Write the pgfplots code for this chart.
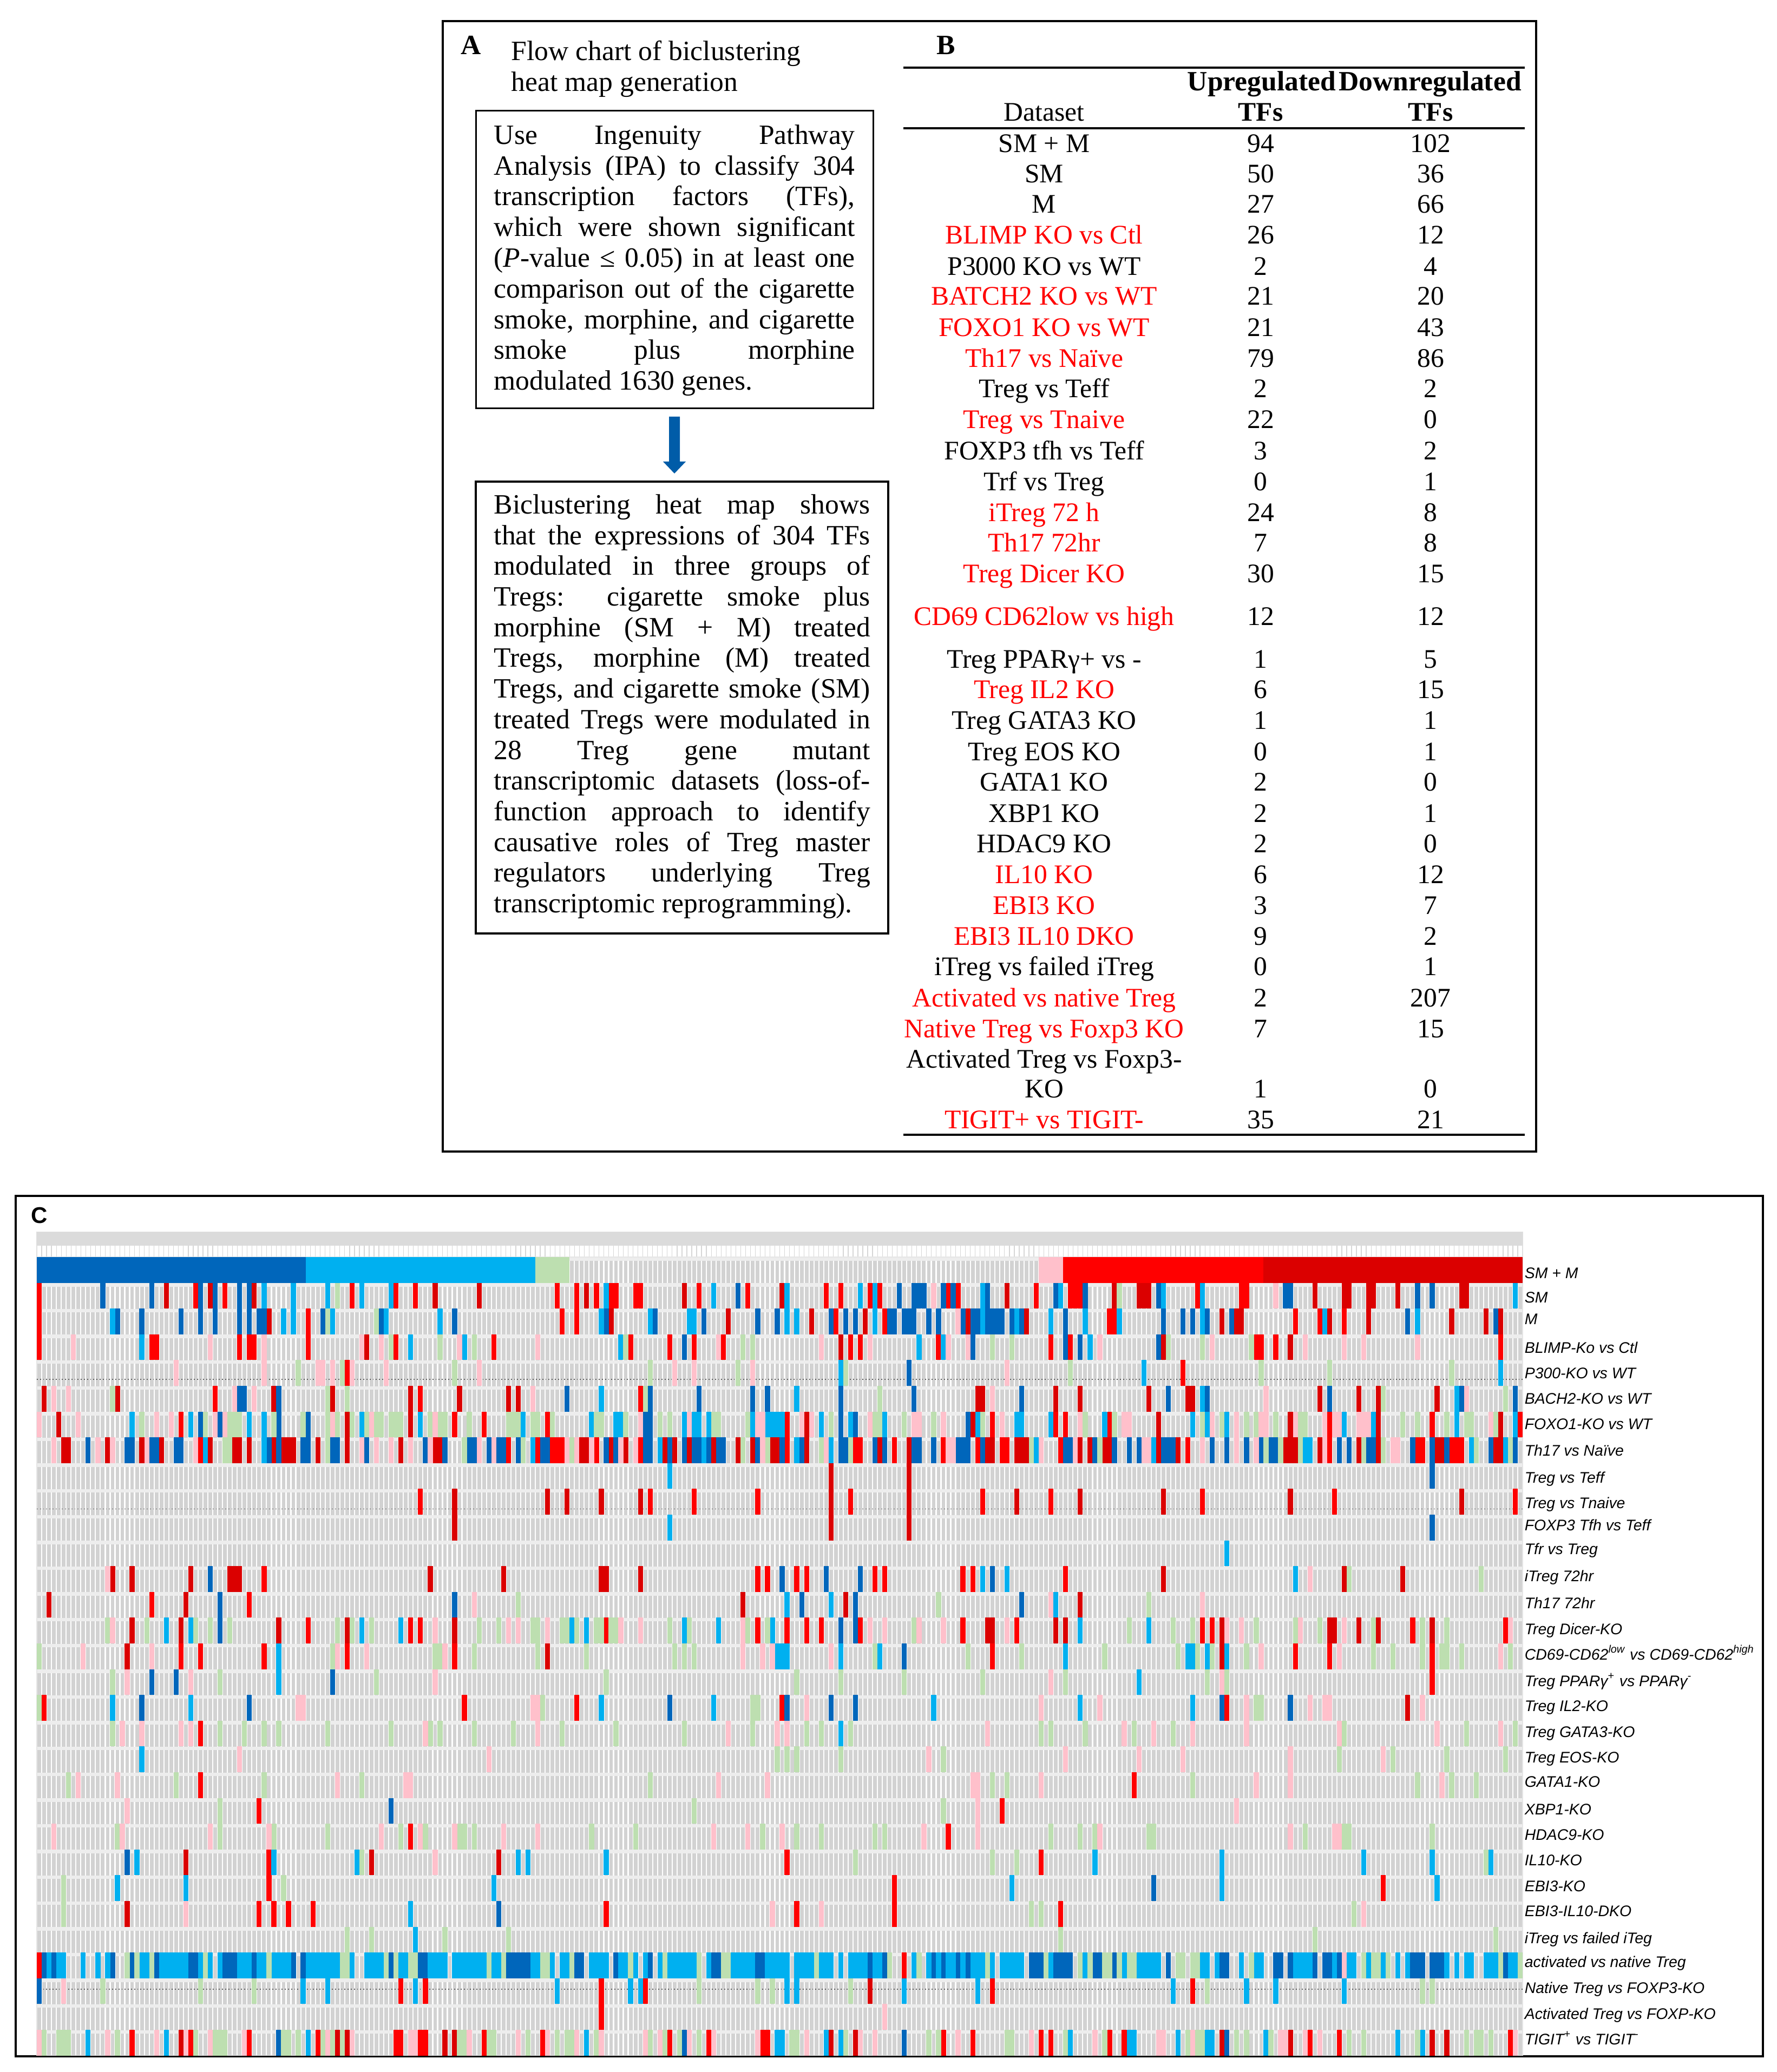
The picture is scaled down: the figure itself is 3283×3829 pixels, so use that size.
\documentclass[border=0pt]{standalone}
\usepackage{pgfplots}
\pgfplotsset{compat=1.18}
\usepackage{fontspec}
\setmainfont{Liberation Serif}
\newfontfamily\arial{Liberation Sans}
\definecolor{cR}{HTML}{FF0000}
\definecolor{cD}{HTML}{DB0000}
\definecolor{cP}{HTML}{FFC0CB}
\definecolor{cG}{HTML}{BDDFB0}
\definecolor{cB}{HTML}{00B0F0}
\definecolor{cU}{HTML}{0066BB}
\definecolor{cBg}{HTML}{D2D2D2}
\pgfplotsset{
 cell/.style={only marks,mark=|,mark size=5.95pt,mark options={line width=2.32pt}},
 R/.style={cell,color=cR},D/.style={cell,color=cD},P/.style={cell,color=cP},
 G/.style={cell,color=cG},B/.style={cell,color=cB},U/.style={cell,color=cU},
}
\newcommand\tfont{\fontsize{12.9}{14.2}\selectfont}
\newcommand\sfont{\fontsize{12.4}{14.2}\selectfont}
\newcommand\jl[3]{\node[anchor=base west,inner sep=0pt] at (912,#1) {\tfont\makebox[#2pt][s]{#3}};}
\newcommand\tr[5][black]{\node[anchor=base,inner sep=0pt,text=#1] at (1929,#2) {\sfont #3};
 \node[anchor=base,inner sep=0pt] at (2329,#2) {\sfont #4};
 \node[anchor=base,inner sep=0pt] at (2643,#2) {\sfont #5};}
\newcommand\hl[2]{\node[anchor=base west,inner sep=0pt] at (2816,#1) {\arial\itshape\fontsize{7.1}{8}\selectfont #2};}
\begin{document}
\begin{tikzpicture}[x=0.25pt,y=-0.25pt]
\path (0,0) rectangle (3283,3829);
% panel frames
\draw[line width=0.8pt] (818,39) rectangle (2838,2128);
\draw[line width=0.75pt] (879,205) rectangle (1613,755);
\draw[line width=1pt] (879,890) rectangle (1641,1725);
\fill[cU!90!black] (1236,770) -- (1256,770) -- (1256,853) -- (1267,853) -- (1246,875) -- (1225,853) -- (1236,853) -- cycle;
% panel A
\node[anchor=base west,inner sep=0pt] at (851,101) {\tfont\bfseries A};
\node[anchor=base west,inner sep=0pt] at (944,112) {\tfont Flow chart of biclustering};
\node[anchor=base west,inner sep=0pt] at (944,169) {\tfont heat map generation};
\jl{267}{166.75}{Use Ingenuity Pathway}
\jl{324}{166.75}{Analysis (IPA) to classify 304}
\jl{380}{166.75}{transcription factors (TFs),}
\jl{437}{166.75}{which were shown significant}
\jl{494}{166.75}{(\textit{P}-value ≤ 0.05) in at least one}
\jl{551}{166.75}{comparison out of the cigarette}
\jl{608}{166.75}{smoke, morphine, and cigarette}
\jl{664}{166.75}{smoke plus morphine}
\node[anchor=base west,inner sep=0pt] at (912,721) {\tfont modulated 1630 genes.};
\jl{949}{173.75}{Biclustering heat map shows}
\jl{1006}{173.75}{that the expressions of 304 TFs}
\jl{1062}{173.75}{modulated in three groups of}
\jl{1119}{173.75}{Tregs: cigarette smoke plus}
\jl{1176}{173.75}{morphine (SM + M) treated}
\jl{1232}{173.75}{Tregs, morphine (M) treated}
\jl{1289}{173.75}{Tregs, and cigarette smoke (SM)}
\jl{1346}{173.75}{treated Tregs were modulated in}
\jl{1403}{173.75}{28 Treg gene mutant}
\jl{1459}{173.75}{transcriptomic datasets (loss-of-}
\jl{1516}{173.75}{function approach to identify}
\jl{1573}{173.75}{causative roles of Treg master}
\jl{1629}{173.75}{regulators underlying Treg}
\node[anchor=base west,inner sep=0pt] at (912,1686) {\tfont transcriptomic reprogramming).};
% panel B
\node[anchor=base west,inner sep=0pt] at (1730,101) {\tfont\bfseries B};
\draw[line width=1pt] (1669,125) -- (2817,125);
\draw[line width=1pt] (1669,237) -- (2817,237);
\draw[line width=0.8pt] (1669,2097) -- (2817,2097);
\node[anchor=base,inner sep=0pt] at (2331,168) {\tfont\bfseries Upregulated};
\node[anchor=base,inner sep=0pt] at (2642,168) {\tfont\bfseries Downregulated};
\tr{224}{Dataset}{\textbf{TFs}}{\textbf{TFs}}
\tr{282}{SM + M}{94}{102}
\tr{338}{SM}{50}{36}
\tr{394}{M}{27}{66}
\tr[cR]{451}{BLIMP KO vs Ctl}{26}{12}
\tr{509}{P3000 KO vs WT}{2}{4}
\tr[cR]{564}{BATCH2 KO vs WT}{21}{20}
\tr[cR]{622}{FOXO1 KO vs WT}{21}{43}
\tr[cR]{679}{Th17 vs Naïve}{79}{86}
\tr{735}{Treg vs Teff}{2}{2}
\tr[cR]{792}{Treg vs Tnaive}{22}{0}
\tr{850}{FOXP3 tfh vs Teff}{3}{2}
\tr{906}{Trf vs Treg}{0}{1}
\tr[cR]{963}{iTreg 72 h}{24}{8}
\tr[cR]{1019}{Th17 72hr}{7}{8}
\tr[cR]{1076}{Treg Dicer KO}{30}{15}
\tr[cR]{1155}{CD69 CD62low vs high}{12}{12}
\tr{1234}{Treg PPARγ+ vs -}{1}{5}
\tr[cR]{1290}{Treg IL2 KO}{6}{15}
\tr{1347}{Treg GATA3 KO}{1}{1}
\tr{1405}{Treg EOS KO}{0}{1}
\tr{1461}{GATA1 KO}{2}{0}
\tr{1519}{XBP1 KO}{2}{1}
\tr{1575}{HDAC9 KO}{2}{0}
\tr[cR]{1632}{IL10 KO}{6}{12}
\tr[cR]{1689}{EBI3 KO}{3}{7}
\tr[cR]{1746}{EBI3 IL10 DKO}{9}{2}
\tr{1802}{iTreg vs failed iTreg}{0}{1}
\tr[cR]{1860}{Activated vs native Treg}{2}{207}
\tr[cR]{1917}{Native Treg vs Foxp3 KO}{7}{15}
\node[anchor=base,inner sep=0pt] at (1929,1973) {\sfont Activated Treg vs Foxp3-};
\tr{2028}{KO}{1}{0}
\tr[cR]{2085}{TIGIT+ vs TIGIT-}{35}{21}
% panel C
\draw[line width=1pt] (29,2210) rectangle (3257,3800);
\node[anchor=base west,inner sep=0pt] at (57,2260) {\arial\bfseries\fontsize{10.5}{12}\selectfont C};
\hl{2362}{SM + M}
\hl{2407}{SM}
\hl{2447}{M}
\hl{2500}{BLIMP-Ko vs Ctl}
\hl{2547}{P300-KO vs WT}
\hl{2594}{BACH2-KO vs WT}
\hl{2641}{FOXO1-KO vs WT}
\hl{2690}{Th17 vs Naïve}
\hl{2740}{Treg vs Teff}
\hl{2787}{Treg vs Tnaive}
\hl{2828}{FOXP3 Tfh vs Teff}
\hl{2872}{Tfr vs Treg}
\hl{2922}{iTreg 72hr}
\hl{2972}{Th17 72hr}
\hl{3020}{Treg Dicer-KO}
\hl{3067}{CD69-CD62\textsuperscript{low} vs CD69-CD62\textsuperscript{high}}
\hl{3116}{Treg PPARγ\textsuperscript{+} vs PPARγ\textsuperscript{-}}
\hl{3162}{Treg IL2-KO}
\hl{3210}{Treg GATA3-KO}
\hl{3257}{Treg EOS-KO}
\hl{3302}{GATA1-KO}
\hl{3353}{XBP1-KO}
\hl{3400}{HDAC9-KO}
\hl{3447}{IL10-KO}
\hl{3495}{EBI3-KO}
\hl{3541}{EBI3-IL10-DKO}
\hl{3591}{iTreg vs failed iTeg}
\hl{3635}{activated vs native Treg}
\hl{3683}{Native Treg vs FOXP3-KO}
\hl{3731}{Activated Treg vs FOXP-KO}
\hl{3778}{TIGIT\textsuperscript{+} vs TIGIT\textsuperscript{-}}
% header strip of the heat map
\begin{axis}[at={(17pt,-569.25pt)},anchor=north west,scale only axis,width=686.25pt,height=11.5pt,
 xmin=-0.5,xmax=303.5,ymin=0,ymax=1,ytick=\empty,xticklabels={},
 xtick={-0.5,0.5,...,303.5},major tick length=0pt,xmajorgrids,
 major grid style={draw=black!16,line width=0.3pt},axis line style={draw=black!12,line width=0.3pt}]
\addplot[draw=none,fill=black!14] coordinates {(-0.5,0.45)(303.5,0.45)(303.5,1)(-0.5,1)} -- cycle;
\end{axis}
% heat map
\begin{axis}[at={(17pt,-580.75pt)},anchor=north west,scale only axis,width=686.25pt,height=368.875pt,
 xmin=-0.5,xmax=303.5,ymin=-0.5,ymax=30.5,y dir=reverse,
 xticklabels={},yticklabels={},major tick length=0pt,
 xtick={-0.5,0.5,...,303.5},
 ytick={-0.42,0.58,...,30.58},
 xmajorgrids,ymajorgrids,
 x grid style={draw=white,line width=0.55pt},
 y grid style={draw=black!7,line width=1.6pt},
 axis background/.style={fill=cBg},axis line style={draw=black!10,line width=0.3pt}]
\addplot[densely dotted,black!65,line width=0.45pt] coordinates {(-0.5,4.25)(303.5,4.25)};
\addplot[densely dotted,black!65,line width=0.45pt] coordinates {(-0.5,9.28)(303.5,9.28)};
\addplot[densely dotted,black!65,line width=0.45pt] coordinates {(-0.5,27.92)(303.5,27.92)};
% SM + M
\addplot[cU,line width=11.9pt] coordinates {(-0.5,0)(54.5,0)};
\addplot[cB,line width=11.9pt] coordinates {(54.5,0)(101.5,0)};
\addplot[cG,line width=11.9pt] coordinates {(101.5,0)(108.5,0)};
\addplot[cP,line width=11.9pt] coordinates {(204.5,0)(209.5,0)};
\addplot[cR,line width=11.9pt] coordinates {(209.5,0)(250.5,0)};
\addplot[cD,line width=11.9pt] coordinates {(250.5,0)(303.5,0)};
% SM
\addplot[R] coordinates {(0,1)(32,1)(38,1)(64,1)(73,1)(77,1)(106,1)(110,1)(114,1)(117,1)(118,1)(122,1)(123,1)(135,1)(145,1)(161,1)(164,1)(170,1)(172,1)(186,1)(188,1)(204,1)(211,1)(212,1)(213,1)(237,1)(246,1)(247,1)};
\addplot[D] coordinates {(26,1)(35,1)(44,1)(81,1)(90,1)(112,1)(132,1)(152,1)(198,1)(220,1)(225,1)(226,1)(227,1)(261,1)(267,1)(268,1)(272,1)(273,1)(278,1)(291,1)(292,1)};
\addplot[U] coordinates {(13,1)(23,1)(33,1)(36,1)(41,1)(43,1)(143,1)(176,1)(179,1)(180,1)(181,1)(185,1)(187,1)(194,1)(208,1)(214,1)(229,1)(255,1)(256,1)(282,1)(285,1)};
\addplot[B] coordinates {(46,1)(52,1)(59,1)(66,1)(72,1)(116,1)(138,1)(153,1)(168,1)(171,1)(193,1)(209,1)(230,1)(238,1)(302,1)};
\addplot[G] coordinates {(61,1)(221,1)};
\addplot[P] coordinates {(183,1)(253,1)};
% M
\addplot[R] coordinates {(0,2)(55,2)(107,2)(110,2)(163,2)(173,2)(219,2)(220,2)(257,2)(262,2)(267,2)};
\addplot[D] coordinates {(47,2)(117,2)(141,2)(158,2)(169,2)(190,2)(202,2)(242,2)(245,2)(246,2)(264,2)(272,2)(289,2)(296,2)(299,2)};
\addplot[U] coordinates {(16,2)(21,2)(29,2)(33,2)(36,2)(41,2)(43,2)(45,2)(46,2)(58,2)(70,2)(85,2)(116,2)(126,2)(136,2)(147,2)(151,2)(162,2)(165,2)(167,2)(174,2)(175,2)(177,2)(178,2)(179,2)(182,2)(184,2)(189,2)(191,2)(192,2)(194,2)(195,2)(196,2)(197,2)(199,2)(201,2)(210,2)(230,2)(234,2)(236,2)(239,2)(244,2)(280,2)(298,2)};
\addplot[B] coordinates {(15,2)(50,2)(52,2)(60,2)(71,2)(82,2)(115,2)(125,2)(133,2)(134,2)(153,2)(155,2)(171,2)(193,2)(200,2)(207,2)(214,2)(221,2)(238,2)(263,2)(282,2)};
\addplot[G] coordinates {(59,2)(69,2)};
\addplot[P] coordinates {(188,2)};
% BLIMP
\addplot[R] coordinates {(0,3)(23,3)(24,3)(41,3)(43,3)(44,3)(55,3)(73,3)(93,3)(121,3)(129,3)(134,3)(140,3)(166,3)(168,3)(184,3)(207,3)(211,3)(249,3)(250,3)(253,3)(299,3)};
\addplot[D] coordinates {(67,3)(164,3)(230,3)(256,3)};
\addplot[U] coordinates {(132,3)(191,3)(210,3)(213,3)(229,3)};
\addplot[B] coordinates {(21,3)(76,3)(87,3)(119,3)(180,3)(185,3)(215,3)};
\addplot[G] coordinates {(72,3)(82,3)(89,3)(120,3)(144,3)(146,3)(195,3)(199,3)(231,3)(238,3)(248,3)};
\addplot[P] coordinates {(7,3)(35,3)(46,3)(66,3)(70,3)(86,3)(102,3)(139,3)(160,3)(170,3)(186,3)(190,3)(217,3)(240,3)(259,3)(267,3)(271,3)(282,3)};
% P300
\addplot[R] coordinates {(63,4)(234,4)};
\addplot[U] coordinates {(178,4)};
\addplot[B] coordinates {(164,4)(226,4)(299,4)};
\addplot[G] coordinates {(53,4)(62,4)(85,4)(125,4)(143,4)(165,4)(211,4)(250,4)(264,4)(289,4)};
\addplot[P] coordinates {(28,4)(46,4)(57,4)(58,4)(60,4)(64,4)(71,4)(90,4)(130,4)(134,4)(146,4)(198,4)};
% BACH2
\addplot[R] coordinates {(36,5)(78,5)(123,5)};
\addplot[D] coordinates {(1,5)(16,5)(48,5)(60,5)(76,5)(86,5)(96,5)(98,5)(192,5)(193,5)(208,5)(213,5)(227,5)(235,5)(236,5)(262,5)(270,5)(274,5)(286,5)};
\addplot[U] coordinates {(41,5)(42,5)(49,5)(108,5)(125,5)(135,5)(146,5)(149,5)(164,5)(179,5)(201,5)(231,5)(239,5)(264,5)(291,5)(302,5)};
\addplot[B] coordinates {(115,5)(155,5)(238,5)(290,5)};
\addplot[G] coordinates {(15,5)(59,5)(63,5)(124,5)(172,5)(275,5)(300,5)};
\addplot[P] coordinates {(3,5)(6,5)(40,5)(44,5)(101,5)(195,5)(251,5)(292,5)};
% FOXO1
\addplot[R] coordinates {(29,6)(85,6)(91,6)(104,6)(153,6)(195,6)(208,6)(210,6)(219,6)(264,6)(285,6)(303,6)};
\addplot[D] coordinates {(4,6)(63,6)(76,6)(157,6)(191,6)(229,6)(256,6)(274,6)(299,6)};
\addplot[U] coordinates {(33,6)(37,6)(49,6)(55,6)(124,6)(125,6)(164,6)(167,6)(190,6)};
\addplot[B] coordinates {(19,6)(31,6)(43,6)(46,6)(66,6)(78,6)(99,6)(113,6)(118,6)(119,6)(132,6)(134,6)(135,6)(137,6)(146,6)(149,6)(150,6)(151,6)(152,6)(160,6)(166,6)(173,6)(192,6)(200,6)(201,6)(207,6)(218,6)(236,6)(239,6)(243,6)(267,6)(273,6)(290,6)(302,6)};
\addplot[G] coordinates {(21,6)(34,6)(39,6)(40,6)(41,6)(48,6)(54,6)(59,6)(61,6)(64,6)(67,6)(69,6)(70,6)(72,6)(73,6)(74,6)(80,6)(82,6)(83,6)(88,6)(96,6)(97,6)(98,6)(101,6)(102,6)(105,6)(114,6)(115,6)(120,6)(127,6)(129,6)(138,6)(139,6)(145,6)(162,6)(171,6)(172,6)(177,6)(183,6)(193,6)(214,6)(220,6)(238,6)(242,6)(247,6)(249,6)(253,6)(258,6)(259,6)(279,6)(282,6)(288,6)(292,6)(293,6)(298,6)};
\addplot[P] coordinates {(0,6)(8,6)(24,6)(27,6)(36,6)(38,6)(60,6)(68,6)(81,6)(123,6)(133,6)(147,6)(148,6)(156,6)(158,6)(170,6)(179,6)(180,6)(185,6)(197,6)(213,6)(222,6)(223,6)(240,6)(245,6)(250,6)(251,6)(257,6)(263,6)(265,6)(266,6)(270,6)(271,6)(272,6)(297,6)};
% Th17 vs Naive
\addplot[R] coordinates {(33,7)(96,7)(102,7)(105,7)(106,7)(107,7)(114,7)(123,7)(153,7)(167,7)(168,7)(175,7)(185,7)(192,7)(197,7)(198,7)(209,7)(235,7)(264,7)(282,7)(283,7)(289,7)(290,7)(291,7)};
\addplot[D] coordinates {(5,7)(6,7)(14,7)(21,7)(25,7)(35,7)(40,7)(41,7)(43,7)(48,7)(50,7)(51,7)(52,7)(57,7)(63,7)(74,7)(81,7)(82,7)(111,7)(112,7)(117,7)(120,7)(128,7)(130,7)(133,7)(138,7)(143,7)(146,7)(150,7)(151,7)(157,7)(172,7)(178,7)(194,7)(195,7)(200,7)(201,7)(202,7)(213,7)(215,7)(218,7)(219,7)(229,7)(233,7)(255,7)(256,7)(257,7)(262,7)(270,7)(274,7)(286,7)(287,7)(298,7)(299,7)};
\addplot[U] coordinates {(10,7)(18,7)(19,7)(23,7)(24,7)(28,7)(29,7)(47,7)(49,7)(54,7)(55,7)(60,7)(61,7)(67,7)(79,7)(83,7)(88,7)(89,7)(92,7)(94,7)(95,7)(98,7)(103,7)(104,7)(116,7)(118,7)(124,7)(125,7)(129,7)(132,7)(134,7)(135,7)(137,7)(139,7)(140,7)(147,7)(152,7)(156,7)(164,7)(165,7)(171,7)(173,7)(179,7)(180,7)(183,7)(188,7)(189,7)(190,7)(193,7)(210,7)(211,7)(216,7)(220,7)(223,7)(225,7)(230,7)(231,7)(232,7)(240,7)(243,7)(247,7)(250,7)(252,7)(253,7)(266,7)(268,7)(272,7)(273,7)(281,7)(285,7)(288,7)(297,7)(302,7)};
\addplot[B] coordinates {(34,7)(46,7)(101,7)(127,7)(136,7)(155,7)(162,7)(204,7)(228,7)(259,7)(260,7)(293,7)(300,7)};
\addplot[G] coordinates {(38,7)(39,7)(59,7)(87,7)(99,7)(109,7)(144,7)(149,7)(160,7)(166,7)(203,7)(217,7)(251,7)(254,7)(258,7)(271,7)(275,7)(294,7)(301,7)};
\addplot[P] coordinates {(3,7)(12,7)(15,7)(22,7)(32,7)(66,7)(69,7)(72,7)(76,7)(80,7)(90,7)(93,7)(108,7)(110,7)(113,7)(119,7)(122,7)(148,7)(161,7)(186,7)(187,7)(205,7)(212,7)(226,7)(227,7)(238,7)(245,7)(249,7)(263,7)(277,7)(278,7)};
% Treg vs Teff
\addplot[D] coordinates {(162,8)(178,8)};
\addplot[B] coordinates {(129,8)};
\addplot[U] coordinates {(285,8)};
% Treg vs Tnaive
\addplot[R] coordinates {(78,9)(125,9)(134,9)(147,9)(166,9)(193,9)(207,9)(238,9)(265,9)(302,9)};
\addplot[D] coordinates {(85,9)(104,9)(108,9)(115,9)(123,9)(162,9)(178,9)(200,9)(213,9)(230,9)(256,9)(291,9)};
% FOXP3 Tfh
\addplot[D] coordinates {(85,10)(162,10)(178,10)};
\addplot[B] coordinates {(129,10)};
\addplot[U] coordinates {(285,10)};
% Tfr
\addplot[B] coordinates {(243,11)};
% iTreg 72
\addplot[R] coordinates {(46,12)(147,12)(149,12)(155,12)(157,12)(171,12)(173,12)(189,12)(191,12)(210,12)};
\addplot[D] coordinates {(15,12)(19,12)(31,12)(39,12)(40,12)(41,12)(80,12)(95,12)(115,12)(116,12)(123,12)(230,12)(267,12)(279,12)};
\addplot[U] coordinates {(35,12)(152,12)(161,12)(168,12)(195,12)};
\addplot[B] coordinates {(193,12)(198,12)(257,12)};
\addplot[G] coordinates {(268,12)(295,12)};
\addplot[P] coordinates {(14,12)(260,12)};
% Th17 72
\addplot[R] coordinates {(23,13)(43,13)};
\addplot[D] coordinates {(2,13)(30,13)(144,13)(165,13)(213,13)};
\addplot[U] coordinates {(37,13)(85,13)(156,13)(167,13)(201,13)};
\addplot[B] coordinates {(153,13)(162,13)(208,13)};
\addplot[G] coordinates {(98,13)(184,13)(227,13)};
\addplot[P] coordinates {(89,13)(207,13)(238,13)};
% Dicer
\addplot[R] coordinates {(55,14)(76,14)(78,14)(116,14)(147,14)(153,14)(157,14)(160,14)(168,14)(189,14)(200,14)(238,14)(240,14)(281,14)(300,14)};
\addplot[D] coordinates {(19,14)(29,14)(49,14)(63,14)(85,14)(194,14)(195,14)(208,14)(210,14)(242,14)(264,14)(265,14)(270,14)(274,14)(285,14)};
\addplot[U] coordinates {(37,14)(164,14)(167,14)};
\addplot[B] coordinates {(26,14)(31,14)(66,14)(74,14)(109,14)(112,14)(132,14)(139,14)(150,14)(213,14)(227,14)};
\addplot[G] coordinates {(14,14)(22,14)(32,14)(35,14)(39,14)(61,14)(64,14)(68,14)(90,14)(94,14)(101,14)(102,14)(107,14)(108,14)(110,14)(114,14)(115,14)(117,14)(118,14)(129,14)(133,14)(145,14)(149,14)(179,14)(223,14)(232,14)(236,14)(249,14)(257,14)(262,14)(273,14)(283,14)(288,14)};
\addplot[P] coordinates {(15,14)(81,14)(96,14)(98,14)(104,14)(119,14)(123,14)(144,14)(170,14)(173,14)(180,14)(185,14)(198,14)(243,14)(246,14)(258,14)(267,14)(301,14)};
% CD69
\addplot[R] coordinates {(29,15)(33,15)(46,15)(63,15)(85,15)(195,15)(257,15)(264,15)(285,15)};
\addplot[D] coordinates {(18,15)(104,15)(242,15)};
\addplot[U] coordinates {(177,15)};
\addplot[B] coordinates {(49,15)(151,15)(152,15)(153,15)(164,15)(172,15)(210,15)(235,15)(236,15)(239,15)(243,15)};
\addplot[G] coordinates {(0,15)(60,15)(81,15)(82,15)(89,15)(102,15)(112,15)(130,15)(132,15)(134,15)(171,15)(190,15)(201,15)(218,15)(233,15)(237,15)(240,15)(247,15)(273,15)(277,15)(283,15)(287,15)(288,15)(291,15)(301,15)};
\addplot[P] coordinates {(9,15)(23,15)(61,15)(67,15)(83,15)(144,15)(148,15)(150,15)(162,15)(250,15)(266,15)(299,15)};
% PPAR
\addplot[R] coordinates {(285,16)};
\addplot[U] coordinates {(23,16)(28,16)(60,16)};
\addplot[B] coordinates {(49,16)(225,16)};
\addplot[G] coordinates {(15,16)(37,16)(69,16)(116,16)(155,16)(164,16)(177,16)(193,16)(210,16)(239,16)(243,16)};
\addplot[P] coordinates {(18,16)(31,16)(81,16)(207,16)(242,16)};
% IL2
\addplot[R] coordinates {(1,17)(87,17)(110,17)(152,17)(243,17)};
\addplot[D] coordinates {(280,17)};
\addplot[U] coordinates {(21,17)(43,17)(129,17)(153,17)(162,17)(167,17)(242,17)(256,17)};
\addplot[B] coordinates {(15,17)(31,17)(115,17)(138,17)(183,17)(213,17)(236,17)};
\addplot[G] coordinates {(0,17)(103,17)(146,17)(147,17)(249,17)(250,17)};
\addplot[P] coordinates {(53,17)(54,17)(101,17)(102,17)(157,17)(205,17)(217,17)(247,17)(260,17)(263,17)(264,17)(283,17)};
% GATA3
\addplot[R] coordinates {(33,18)};
\addplot[B] coordinates {(164,18)};
\addplot[G] coordinates {(15,18)(37,18)(42,18)(46,18)(49,18)(59,18)(72,18)(80,18)(82,18)(89,18)(97,18)(107,18)(118,18)(132,18)(146,18)(157,18)(160,18)(166,18)(205,18)(207,18)(214,18)(224,18)(232,18)(267,18)(292,18)(302,18)};
\addplot[P] coordinates {(17,18)(21,18)(29,18)(31,18)(79,18)(102,18)(141,18)(151,18)(153,18)(194,18)(222,18)(228,18)(236,18)(247,18)(266,18)(286,18)(299,18)};
% EOS
\addplot[B] coordinates {(21,19)};
\addplot[G] coordinates {(151,19)(153,19)(155,19)(164,19)(185,19)(266,19)(277,19)(288,19)(300,19)};
\addplot[P] coordinates {(41,19)(92,19)(182,19)(210,19)(225,19)(234,19)(256,19)(275,19)};
% GATA1
\addplot[R] coordinates {(33,20)(224,20)};
\addplot[G] coordinates {(6,20)(28,20)(46,20)(66,20)(125,20)(195,20)(198,20)(236,20)(282,20)(289,20)(294,20)};
\addplot[P] coordinates {(8,20)(16,20)(61,20)(75,20)(76,20)(139,20)(149,20)(191,20)(192,20)(205,20)(249,20)(256,20)(287,20)};
% XBP1
\addplot[R] coordinates {(45,21)(197,21)};
\addplot[U] coordinates {(72,21)};
\addplot[G] coordinates {(37,21)(134,21)(185,21)};
\addplot[P] coordinates {(18,21)(192,21)(245,21)};
% HDAC9
\addplot[R] coordinates {(76,22)(186,22)};
\addplot[G] coordinates {(16,22)(37,22)(48,22)(59,22)(74,22)(79,22)(86,22)(87,22)(89,22)(113,22)(122,22)(148,22)(155,22)(160,22)(171,22)(173,22)(207,22)(213,22)(216,22)(227,22)(228,22)(259,22)(267,22)(268,22)(285,22)};
\addplot[P] coordinates {(3,22)(17,22)(35,22)(47,22)(70,22)(78,22)(85,22)(95,22)(102,22)(138,22)(145,22)(152,22)(181,22)(192,22)(217,22)(256,22)(265,22)(266,22)};
% IL10
\addplot[R] coordinates {(47,23)(153,23)(205,23)};
\addplot[D] coordinates {(30,23)(68,23)(94,23)};
\addplot[U] coordinates {(18,23)};
\addplot[B] coordinates {(20,23)(48,23)(65,23)(98,23)(100,23)(116,23)(216,23)(242,23)(271,23)(285,23)(297,23)};
\addplot[G] coordinates {(66,23)(167,23)(195,23)(200,23)(296,23)};
\addplot[P] coordinates {(81,23)};
% EBI3
\addplot[R] coordinates {(47,24)(175,24)(275,24)};
\addplot[U] coordinates {(228,24)};
\addplot[B] coordinates {(16,24)(30,24)(93,24)(199,24)(242,24)(286,24)};
\addplot[G] coordinates {(5,24)(50,24)};
% DKO
\addplot[R] coordinates {(45,25)(48,25)(51,25)(56,25)(116,25)(155,25)(175,25)(209,25)};
\addplot[D] coordinates {(18,25)};
\addplot[U] coordinates {(94,25)};
\addplot[B] coordinates {(76,25)};
\addplot[G] coordinates {(5,25)(203,25)(205,25)(269,25)};
\addplot[P] coordinates {(30,25)(150,25)(160,25)(271,25)};
% iTreg vs failed
\addplot[B] coordinates {(77,26)};
\addplot[G] coordinates {(63,26)(68,26)(83,26)(96,26)(209,26)(261,26)(298,26)};
% activated vs native
\addplot[R] coordinates {(0,27)(177,27)};
\addplot[U] coordinates {(1,27)(3,27)(15,27)(19,27)(24,27)(31,27)(32,27)(38,27)(39,27)(40,27)(44,27)(52,27)(54,27)(72,27)(78,27)(79,27)(96,27)(97,27)(98,27)(99,27)(100,27)(110,27)(111,27)(118,27)(125,27)(138,27)(139,27)(147,27)(148,27)(170,27)(173,27)(183,27)(185,27)(188,27)(190,27)(203,27)(204,27)(205,27)(208,27)(209,27)(210,27)(211,27)(216,27)(217,27)(220,27)(231,27)(242,27)(243,27)(253,27)(254,27)(256,27)(261,27)(263,27)(264,27)(266,27)(281,27)(282,27)(283,27)(285,27)(286,27)(287,27)(300,27)};
\addplot[B] coordinates {(2,27)(4,27)(5,27)(9,27)(12,27)(14,27)(21,27)(22,27)(25,27)(26,27)(27,27)(28,27)(29,27)(30,27)(33,27)(35,27)(37,27)(41,27)(42,27)(43,27)(45,27)(46,27)(48,27)(49,27)(50,27)(51,27)(55,27)(56,27)(57,27)(58,27)(59,27)(60,27)(61,27)(64,27)(67,27)(68,27)(69,27)(70,27)(74,27)(75,27)(80,27)(81,27)(82,27)(83,27)(85,27)(86,27)(87,27)(88,27)(89,27)(90,27)(91,27)(93,27)(94,27)(101,27)(102,27)(105,27)(107,27)(108,27)(113,27)(114,27)(115,27)(116,27)(119,27)(120,27)(122,27)(124,27)(127,27)(129,27)(130,27)(131,27)(132,27)(133,27)(134,27)(137,27)(142,27)(143,27)(144,27)(145,27)(146,27)(149,27)(150,27)(151,27)(152,27)(153,27)(155,27)(156,27)(157,27)(158,27)(160,27)(161,27)(162,27)(164,27)(166,27)(167,27)(168,27)(169,27)(171,27)(172,27)(179,27)(182,27)(184,27)(186,27)(187,27)(189,27)(191,27)(192,27)(193,27)(195,27)(197,27)(198,27)(199,27)(200,27)(201,27)(207,27)(214,27)(222,27)(225,27)(226,27)(227,27)(228,27)(229,27)(238,27)(239,27)(241,27)(246,27)(249,27)(250,27)(257,27)(258,27)(259,27)(260,27)(265,27)(268,27)(269,27)(272,27)(275,27)(278,27)(280,27)(288,27)(290,27)(292,27)(293,27)(296,27)(297,27)(298,27)(301,27)(302,27)};
\addplot[G] coordinates {(18,27)(20,27)(23,27)(34,27)(47,27)(62,27)(63,27)(71,27)(73,27)(76,27)(77,27)(92,27)(95,27)(103,27)(104,27)(109,27)(121,27)(128,27)(135,27)(140,27)(141,27)(159,27)(174,27)(180,27)(194,27)(206,27)(213,27)(215,27)(218,27)(219,27)(221,27)(223,27)(224,27)(233,27)(234,27)(236,27)(237,27)(248,27)(271,27)(273,27)(274,27)(276,27)(299,27)(303,27)};
\addplot[P] coordinates {(267,27)};
% Native vs FOXP3
\addplot[R] coordinates {(74,28)(79,28)(115,28)(124,28)(195,28)(236,28)};
\addplot[D] coordinates {(170,28)};
\addplot[U] coordinates {(0,28)};
\addplot[B] coordinates {(54,28)(59,28)(77,28)(106,28)(121,28)(123,28)(153,28)(155,28)(177,28)(192,28)(232,28)(247,28)(253,28)(267,28)};
\addplot[G] coordinates {(13,28)(33,28)(44,28)(135,28)(147,28)(150,28)(166,28)(239,28)(283,28)(285,28)};
\addplot[P] coordinates {(5,28)};
% Activated vs FOXP
\addplot[R] coordinates {(115,29)};
\addplot[P] coordinates {(173,29)};
% TIGIT
\addplot[R] coordinates {(19,30)(31,30)(43,30)(57,30)(73,30)(74,30)(78,30)(79,30)(91,30)(103,30)(129,30)(137,30)(148,30)(149,30)(185,30)(191,30)(205,30)(207,30)(219,30)(222,30)(260,30)(266,30)(301,30)};
\addplot[D] coordinates {(29,30)(61,30)(63,30)(83,30)(85,30)(162,30)(167,30)(242,30)(256,30)(285,30)(288,30)};
\addplot[U] coordinates {(49,30)(132,30)(177,30)(243,30)};
\addplot[B] coordinates {(10,30)(26,30)(55,30)(112,30)(151,30)(152,30)(161,30)(164,30)(211,30)(223,30)(224,30)(233,30)(239,30)(240,30)(251,30)(278,30)(283,30)};
\addplot[G] coordinates {(1,30)(4,30)(5,30)(6,30)(16,30)(32,30)(36,30)(37,30)(38,30)(50,30)(51,30)(53,30)(58,30)(60,30)(62,30)(86,30)(87,30)(92,30)(93,30)(100,30)(106,30)(108,30)(109,30)(114,30)(125,30)(128,30)(131,30)(135,30)(154,30)(155,30)(165,30)(182,30)(184,30)(198,30)(199,30)(210,30)(218,30)(235,30)(237,30)(238,30)(245,30)(247,30)(252,30)(268,30)(271,30)(282,30)(292,30)(294,30)(295,30)(297,30)};
\addplot[P] coordinates {(0,30)(14,30)(24,30)(30,30)(35,30)(42,30)(59,30)(64,30)(76,30)(77,30)(88,30)(98,30)(104,30)(110,30)(115,30)(124,30)(127,30)(133,30)(138,30)(147,30)(157,30)(168,30)(171,30)(188,30)(203,30)(216,30)(229,30)(230,30)(236,30)(254,30)(255,30)(259,30)(262,30)(302,30)};
\end{axis}
\end{tikzpicture}
\end{document}
